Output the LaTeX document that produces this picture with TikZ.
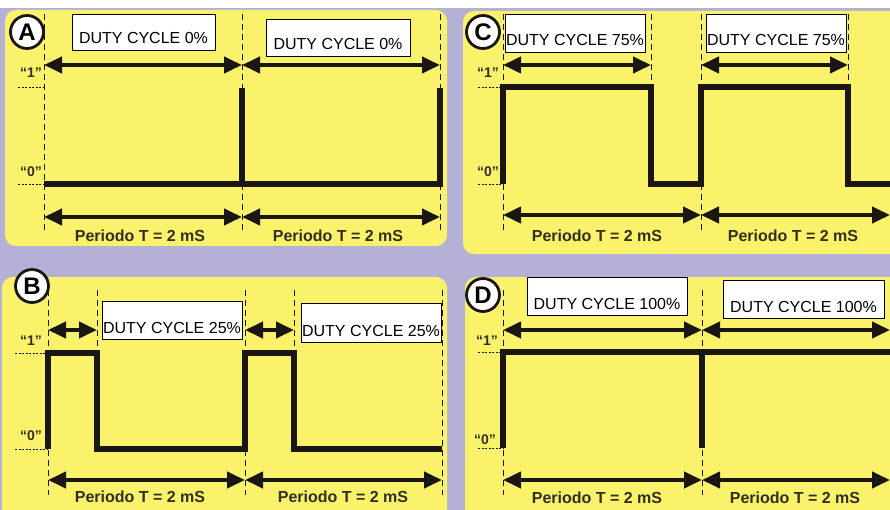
\documentclass[tikz,border=0pt]{standalone}
\usepackage{fontspec}
\setmainfont{Liberation Sans}
\usetikzlibrary{arrows.meta}
\definecolor{bgl}{RGB}{181,177,214}
\definecolor{pan}{RGB}{251,242,108}
\definecolor{ink}{RGB}{26,22,20}
\definecolor{txt}{RGB}{50,46,34}
\tikzset{
  panel/.style={fill=pan, rounded corners=11pt},
  guide/.style={draw=ink, line width=0.8pt, dash pattern=on 6pt off 4pt},
  lvl/.style={draw=ink, line width=0.9pt, dash pattern=on 2pt off 1.5pt},
  sig/.style={draw=ink, line width=5.5pt, line cap=butt, line join=miter},
  dim/.style={draw=ink, line width=4pt, {Triangle[length=18pt,width=16pt]}-{Triangle[length=18pt,width=16pt]}},
  perlbl/.style={text=txt, font=\bfseries\fontsize{16}{18}\selectfont},
  qlbl/.style={text=txt, font=\bfseries\fontsize{14}{16}\selectfont},
  tag/.style={circle, draw=ink, line width=2.8pt, fill=white, minimum size=33pt, inner sep=0pt, font=\bfseries\fontsize{24}{24}\selectfont},
  dutybox/.style={draw=black, line width=0.9pt, fill=white, inner sep=0pt, text depth=6pt, font=\fontsize{16}{18}\selectfont}
}
\begin{document}
\begin{tikzpicture}[x=1pt,y=-1pt]
\clip (0,0) rectangle (890,510);
\fill[white] (0,0) rectangle (890,510);
\fill[bgl] (0,8) rectangle (890,510);
% ---------------- Panel A ----------------
\fill[panel] (5,10) rectangle (447,246);
\foreach \x/\n in {44/aa,242/ab,440/ac}{
  \coordinate (\n t) at (\x,65);
  \coordinate (\n b) at (\x,217);
  \draw[guide] (\x,14) -- (\x,230);
}
\draw[lvl] (18,87) -- (44,87);
\draw[lvl] (18,184) -- (44,184);
\draw[sig] (44,184) -- (242,184) -- (242,88);
\draw[sig] (242,184) -- (440,184) -- (440,88);
\draw[dim] (aat) -- (abt);
\draw[dim] (abt) -- (act);
\draw[dim] (aab) -- (abb);
\draw[dim] (abb) -- (acb);
\node[perlbl] (pa1) at (140,236) {Periodo T = 2 mS};
\node[perlbl] (pa2) at (338,236) {Periodo T = 2 mS};
\node[qlbl] (qa1) at (31,73) {“1”};
\node[qlbl] (qa0) at (31,172) {“0”};
\node[tag] (ta) at (27,32) {A};
\node[dutybox, minimum width=143pt, text height=30pt] (da1) at (143.5,32) {DUTY CYCLE 0\%};
\node[dutybox, minimum width=144pt, text height=31pt] (da2) at (338,37.5) {DUTY CYCLE 0\%};
% ---------------- Panel C ----------------
\fill[panel] (463,11) rectangle (905,254);
\foreach \x in {503,701}{
  \draw[guide] (\x,14) -- (\x,230);
}
\foreach \x in {651,848}{
  \draw[guide] (\x,14) -- (\x,87);
}
\coordinate (cat) at (503,65); \coordinate (cbt) at (651,65);
\coordinate (cct) at (701,65); \coordinate (cdt) at (848,65);
\coordinate (cab) at (503,215); \coordinate (ccb) at (701,215); \coordinate (ceb) at (890,215);
\draw[lvl] (478,87) -- (503,87);
\draw[lvl] (478,184) -- (503,184);
\draw[sig] (503,184) -- (503,87) -- (651,87) -- (651,184) -- (701,184) -- (701,87) -- (848,87) -- (848,184) -- (895,184);
\draw[dim] (cat) -- (cbt);
\draw[dim] (cct) -- (cdt);
\draw[dim] (cab) -- (ccb);
\draw[dim] (ccb) -- (ceb);
\node[perlbl] (pc1) at (597,236) {Periodo T = 2 mS};
\node[perlbl] (pc2) at (793,236) {Periodo T = 2 mS};
\node[qlbl] (qc1) at (488,73) {“1”};
\node[qlbl] (qc0) at (488,172) {“0”};
\node[tag] (tc) at (483,32) {C};
\node[dutybox, minimum width=140pt, text height=32pt] (dc1) at (575,33) {DUTY CYCLE 75\%};
\node[dutybox, minimum width=140pt, text height=32pt] (dc2) at (776,33) {DUTY CYCLE 75\%};
% ---------------- Panel B ----------------
\fill[panel] (2,277) rectangle (447,525);
\foreach \x in {48,245,442}{
  \draw[guide] (\x,290) -- (\x,495);
}
\foreach \x in {97,294}{
  \draw[guide] (\x,290) -- (\x,353);
}
\coordinate (bat) at (48,330); \coordinate (bbt) at (97,330);
\coordinate (bct) at (245,330); \coordinate (bdt) at (294,330);
\coordinate (bab) at (48,480); \coordinate (bcb) at (245,480); \coordinate (beb) at (442,480);
\draw[lvl] (15,353) -- (48,353);
\draw[lvl] (15,449) -- (48,449);
\draw[sig] (48,449) -- (48,353) -- (97,353) -- (97,449) -- (245,449) -- (245,353) -- (294,353) -- (294,449) -- (442,449);
\draw[dim] (bat) -- (bbt);
\draw[dim] (bct) -- (bdt);
\draw[dim] (bab) -- (bcb);
\draw[dim] (bcb) -- (beb);
\node[perlbl] (pb1) at (140,497) {Periodo T = 2 mS};
\node[perlbl] (pb2) at (343,497) {Periodo T = 2 mS};
\node[qlbl] (qb1) at (31,341) {“1”};
\node[qlbl] (qb0) at (31,436) {“0”};
\node[tag] (tb) at (32,286) {B};
\node[dutybox, minimum width=140pt, text height=32pt] (db1) at (172,320) {DUTY CYCLE 25\%};
\node[dutybox, minimum width=140pt, text height=33pt] (db2) at (371,322.5) {DUTY CYCLE 25\%};
% ---------------- Panel D ----------------
\fill[panel] (465,277) rectangle (905,525);
\foreach \x in {503,702}{
  \draw[guide] (\x,290) -- (\x,495);
}
\coordinate (dat) at (503,330); \coordinate (dbt) at (702,330); \coordinate (dct) at (890,330);
\coordinate (dab) at (503,480); \coordinate (dbb) at (702,480); \coordinate (dcb) at (890,480);
\draw[lvl] (478,352) -- (503,352);
\draw[lvl] (478,448) -- (503,448);
\draw[sig] (503,448) -- (503,352) -- (895,352);
\draw[sig] (702,352) -- (702,448);
\draw[dim] (dat) -- (dbt);
\draw[dim] (dbt) -- (dct);
\draw[dim] (dab) -- (dbb);
\draw[dim] (dbb) -- (dcb);
\node[perlbl] (pd1) at (597,498) {Periodo T = 2 mS};
\node[perlbl] (pd2) at (795,498) {Periodo T = 2 mS};
\node[qlbl] (qd1) at (487,341) {“1”};
\node[qlbl] (qd0) at (485,440) {“0”};
\node[tag] (td) at (483,295) {D};
\node[dutybox, minimum width=160pt, text height=32pt] (dd1) at (607,296) {DUTY CYCLE 100\%};
\node[dutybox, minimum width=161pt, text height=32pt] (dd2) at (803.5,299) {DUTY CYCLE 100\%};
\end{tikzpicture}
\end{document}
